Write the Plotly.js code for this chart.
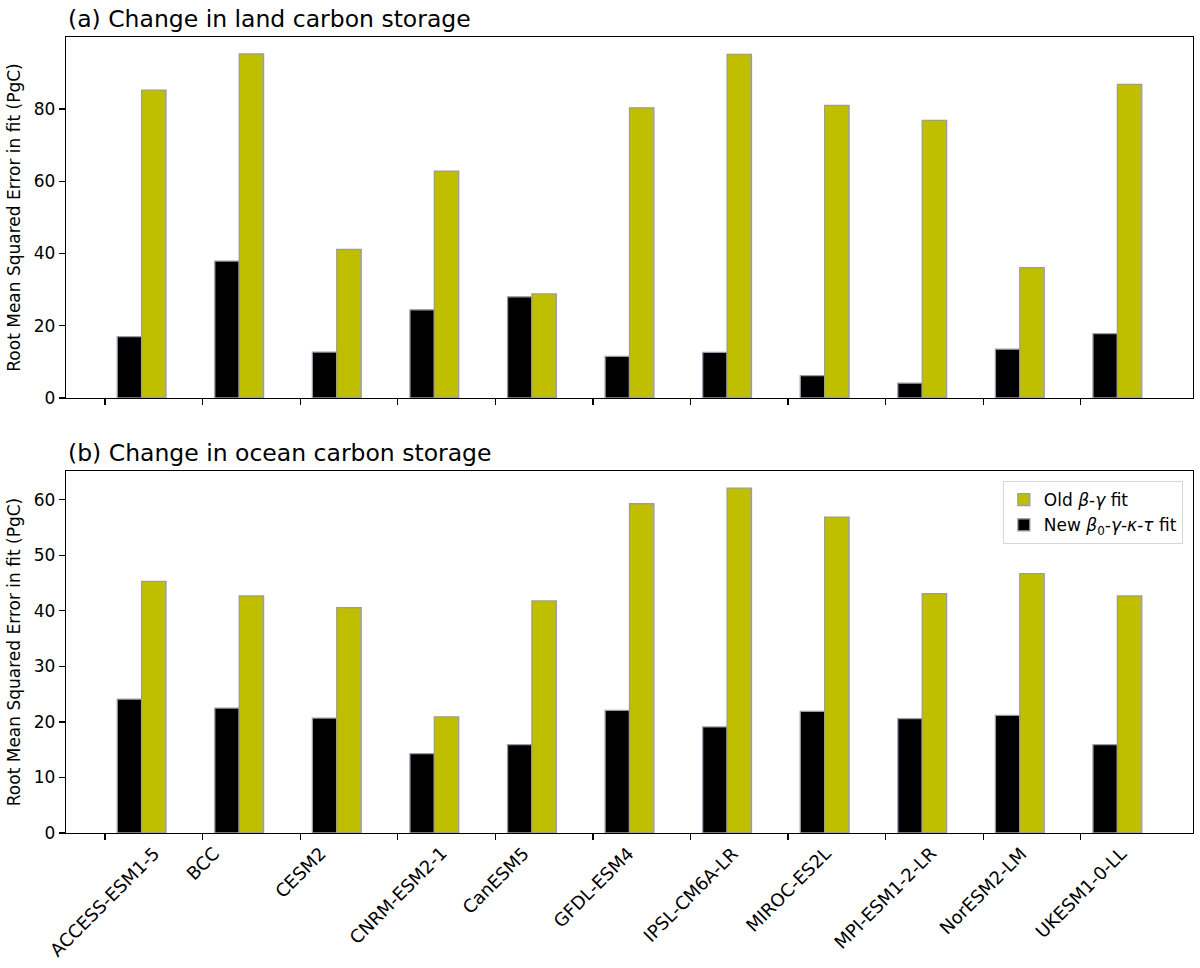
<!DOCTYPE html>
<html>
<head>
<meta charset="utf-8">
<script src="https://cdn.plot.ly/plotly-3.0.1.min.js"></script>
<style>
  html, body { margin: 0; padding: 0; background: #fff; }
  #plot { width: 1200px; height: 968px; }
</style>
</head>
<body>
<div id="plot"></div>
<script>
// Models on the x axis, shared by both panels.
const models = [
  "ACCESS-ESM1-5", "BCC", "CESM2", "CNRM-ESM2-1", "CanESM5", "GFDL-ESM4",
  "IPSL-CM6A-LR", "MIROC-ES2L", "MPI-ESM1-2-LR", "NorESM2-LM", "UKESM1-0-LL"
];

// (a) land carbon storage, RMSE in PgC
const landNew = [17.0, 37.9, 12.7, 24.4, 28.0, 11.5, 12.6, 6.2, 4.1, 13.5, 17.8];
const landOld = [85.2, 95.2, 41.1, 62.8, 28.8, 80.3, 95.1, 81.0, 76.8, 36.1, 86.8];

// (b) ocean carbon storage, RMSE in PgC
const oceanNew = [24.1, 22.5, 20.7, 14.3, 15.9, 22.1, 19.1, 21.9, 20.6, 21.2, 15.9];
const oceanOld = [45.3, 42.7, 40.6, 20.9, 41.8, 59.3, 62.1, 56.9, 43.1, 46.7, 42.7];

const FONT = "DejaVu Sans, sans-serif";
const OLIVE = "#bfbf00";
const EDGE = "#9a9aab";
const W = 0.25;
const FS = 17;

const idx = models.map((_, i) => i);
const xNew = idx.map(i => i + 0.25);
const xOld = idx.map(i => i + 0.5);

function bars(x, y, color, name, xa, ya, legend, rank) {
  return {
    type: "bar", x, y, width: W, name,
    xaxis: xa, yaxis: ya,
    marker: { color, line: { color: EDGE, width: 1.3 } },
    showlegend: legend, legendrank: rank,
    hoverinfo: "y"
  };
}

const data = [
  bars(xNew, landNew, "#000000", "New", "x", "y", false, 2),
  bars(xOld, landOld, OLIVE, "Old", "x", "y", false, 1),
  bars(xNew, oceanNew, "#000000", "New <i>β</i><sub>0</sub>-<i>γ</i>-<i>κ</i>-<i>τ</i> fit", "x2", "y2", true, 2),
  bars(xOld, oceanOld, OLIVE, "Old <i>β</i>-<i>γ</i> fit", "x2", "y2", true, 1)
];

const xBase = {
  range: [-0.4, 11.15],
  tickvals: idx,
  showticklabels: false,
  ticks: "outside", ticklen: 6, tickwidth: 1.2, tickcolor: "#000",
  showline: true, mirror: true, linecolor: "#000", linewidth: 1.3,
  showgrid: false, zeroline: false
};
const yBase = {
  ticks: "outside", ticklen: 6, tickwidth: 1.2, tickcolor: "#000",
  showline: true, mirror: true, linecolor: "#000", linewidth: 1.3,
  showgrid: false, zeroline: false,
  tickfont: { family: FONT, size: FS, color: "#000" },
  title: { text: "Root Mean Squared Error in fit (PgC)", standoff: 8,
           font: { family: FONT, size: FS, color: "#000" } }
};

// Category labels: rotated 45°, box centred under each tick (matplotlib style).
const labelAnn = models.map((m, i) => ({
  text: m, xref: "x2", yref: "paper", x: i, y: 0,
  xanchor: "center", yanchor: "top", yshift: -7,
  textangle: -45, showarrow: false,
  font: { family: FONT, size: 18, color: "#000" }
}));

const layout = {
  width: 1200, height: 968,
  paper_bgcolor: "#fff", plot_bgcolor: "#fff",
  margin: { l: 66, r: 7, t: 37, b: 135 },
  barmode: "overlay",
  font: { family: FONT, color: "#000" },
  xaxis: Object.assign({}, xBase, { anchor: "y", matches: "x2" }),
  yaxis: Object.assign({}, yBase, { domain: [0.5465, 1], range: [0, 99.9], tickvals: [0, 20, 40, 60, 80] }),
  xaxis2: Object.assign({}, xBase, { anchor: "y2" }),
  yaxis2: Object.assign({}, yBase, { domain: [0, 0.4548], range: [0, 65.2], tickvals: [0, 10, 20, 30, 40, 50, 60] }),
  legend: {
    x: 0.991, y: 0.442, xanchor: "right", yanchor: "top",
    bgcolor: "rgba(255,255,255,0.8)", bordercolor: "#d6d6d6", borderwidth: 1,
    font: { family: FONT, size: FS, color: "#000" },
    traceorder: "normal"
  },
  annotations: [
    { text: "(a) Change in land carbon storage", xref: "paper", yref: "paper",
      x: 0, y: 1, xanchor: "left", yanchor: "bottom", yshift: 2, showarrow: false,
      font: { family: FONT, size: 23.5, color: "#000" } },
    { text: "(b) Change in ocean carbon storage", xref: "paper", yref: "paper",
      x: 0, y: 0.4548, xanchor: "left", yanchor: "bottom", yshift: 2, showarrow: false,
      font: { family: FONT, size: 23.5, color: "#000" } }
  ].concat(labelAnn)
};

Plotly.newPlot("plot", data, layout, { displayModeBar: false, staticPlot: true });
</script>
</body>
</html>
